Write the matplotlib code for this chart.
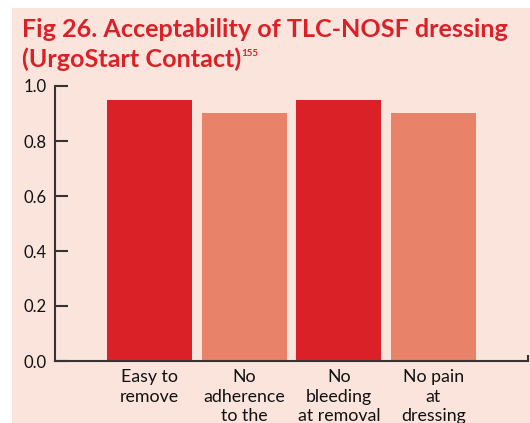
import matplotlib
matplotlib.use("Agg")
import matplotlib.pyplot as plt
from matplotlib.patches import Rectangle

# データ
categories = [
    "Easy to\nremove",
    "No\nadherence\nto the",
    "No\nbleeding\nat removal",
    "No pain\nat\ndressing",
]
values = [0.95, 0.90, 0.95, 0.90]
bar_colors = ["#DA2128", "#E8836A", "#DA2128", "#E8836A"]
y_ticks = [0.0, 0.2, 0.4, 0.6, 0.8, 1.0]
y_tick_labels = ["0.0", "0.2", "0.4", "0.6", "0.8", "1.0"]

title_line1 = "Fig 26. Acceptability of TLC-NOSF dressing"
title_line2 = "(UrgoStart Contact)"
title_ref = "155"

BG = "#FAE4DC"
RED = "#DA2128"
AXIS = "#3A3232"
FONT = "Lato"

W, H = 530, 423
fig = plt.figure(figsize=(W / 100, H / 100), dpi=100, facecolor="white")

# 背景パネル
fig.patches.append(
    Rectangle((12 / W, 0), 1 - 12 / W, 1 - 8 / H, transform=fig.transFigure,
              facecolor=BG, edgecolor="none", zorder=0)
)

ax = fig.add_axes([55 / W, 1 - 361 / H, (528 - 55) / W, (361 - 86) / H])
ax.set_facecolor("none")
ax.set_zorder(2)

x = list(range(len(values)))
ax.bar(x, values, width=0.9, color=bar_colors, edgecolor="none", zorder=2)

ax.set_xlim(-1, 4)
ax.set_ylim(0, 1)
ax.set_yticks(y_ticks)
ax.set_yticklabels(y_tick_labels, fontfamily=FONT, fontsize=12)
ax.set_xticks(x)
ax.set_xticklabels(categories, fontfamily=FONT, fontsize=12.8, linespacing=1.25,
                   va="top")
ax.set_xticks([4], minor=True)

for side in ["top", "right"]:
    ax.spines[side].set_visible(False)
for side in ["left", "bottom"]:
    ax.spines[side].set_color(AXIS)
    ax.spines[side].set_linewidth(1.5)

ax.tick_params(axis="y", direction="in", length=9, width=1.5, color=AXIS,
               pad=6, labelcolor="#111111")
ax.tick_params(axis="x", which="major", length=0, pad=6, labelcolor="#111111")
ax.tick_params(axis="x", which="minor", direction="in", length=4, width=1.5,
               color=AXIS)

# タイトル
t1 = fig.text(22 / W, 1 - 37 / H, title_line1, fontfamily=FONT, fontweight="bold",
              fontsize=18.1, color=RED, va="baseline", ha="left")
t2 = fig.text(22 / W, 1 - 67 / H, title_line2, fontfamily=FONT, fontweight="bold",
              fontsize=18.1, color=RED, va="baseline", ha="left")
fig.canvas.draw()
bb = t2.get_window_extent()
fig.text(bb.x1 / W, 1 - 56 / H, title_ref, fontfamily=FONT,
         fontweight="bold", fontsize=7, color=RED, va="baseline", ha="left")

fig.savefig("out.png", dpi=100, facecolor="white")
